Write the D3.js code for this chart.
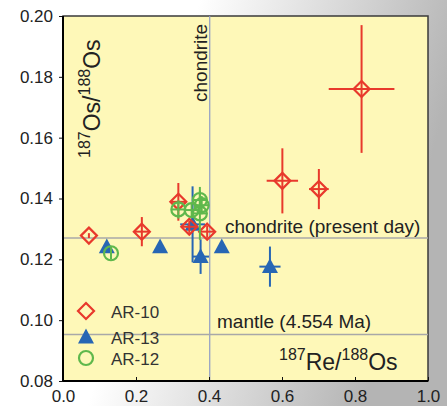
<!DOCTYPE html>
<html><head><meta charset="utf-8">
<script src="https://cdn.jsdelivr.net/npm/d3@7"></script>
<style>
body{margin:0;background:#fff;}
svg{display:block;font-family:"Liberation Sans",Arial,Helvetica,sans-serif;}
</style></head><body>
<svg id="chart" width="447" height="406"></svg>
<script>
// AR-10 (open red diamonds)
var ar10X    = [0.071, 0.216, 0.316, 0.346, 0.395, 0.601, 0.701, 0.818];
var ar10Y    = [0.1278, 0.1291, 0.1389, 0.1307, 0.1291, 0.1458, 0.1431, 0.1760];
var ar10XErr = [0, 0.02, 0.02, 0.02, 0.02, 0.043, 0.027, 0.090];
var ar10YErr = [0.0008, 0.0048, 0.0062, 0.002, 0.002, 0.0107, 0.0066, 0.021];

// AR-13 (filled blue triangles)
var ar13X    = [0.120, 0.266, 0.355, 0.377, 0.435, 0.567];
var ar13Y    = [0.1241, 0.1241, 0.1315, 0.1209, 0.1241, 0.1176];
var ar13XErr = [0, 0, 0.034, 0.023, 0, 0.029];
var ar13YErr = [0, 0, 0.0125, 0.0057, 0, 0.0066];

// AR-12 (open green circles)
var ar12X    = [0.1315, 0.316, 0.3525, 0.375, 0.380, 0.375];
var ar12Y    = [0.1220, 0.1364, 0.1362, 0.1395, 0.1378, 0.1351];
var ar12XErr = [0, 0.018, 0.018, 0.018, 0.018, 0.018];
var ar12YErr = [0.002, 0.003, 0.002, 0.003, 0.003, 0.0087];

var xTicks = [0, 0.2, 0.4, 0.6, 0.8, 1.0];
var yTicks = [0.08, 0.10, 0.12, 0.14, 0.16, 0.18, 0.20];

var chondriteRe = 0.402;      // 187Re/188Os chondrite
var chondriteOs = 0.127;      // present day
var mantleOs = 0.0953;        // 4.554 Ma

var red = "#e8392c", blue = "#2766b4", green = "#5fb84c";

var svg = d3.select("#chart");
var margin = {left: 63, top: 16, right: 19, bottom: 25};
var W = 447, H = 406;
var w = W - margin.left - margin.right, h = H - margin.top - margin.bottom;

// background
var defs = svg.append("defs");
var grad = defs.append("linearGradient").attr("id","bg")
    .attr("x1","0").attr("y1","0").attr("x2","1").attr("y2","0.25");
grad.append("stop").attr("offset","0%").attr("stop-color","#ffffff");
grad.append("stop").attr("offset","42%").attr("stop-color","#ffffff");
grad.append("stop").attr("offset","72%").attr("stop-color","#d9d9d9");
grad.append("stop").attr("offset","100%").attr("stop-color","#b4b4b4");
svg.append("rect").attr("width",W).attr("height",H).attr("fill","url(#bg)");

var x = d3.scaleLinear().domain([0,1]).range([0,w]);
var y = d3.scaleLinear().domain([0.08,0.20]).range([h,0]);

var g = svg.append("g").attr("transform","translate("+margin.left+","+margin.top+")");

g.append("rect").attr("width",w).attr("height",h)
  .attr("fill","#fef8b8").attr("stroke","#3a3a3a").attr("stroke-width",1.5);

// reference lines
g.append("line").attr("x1",x(chondriteRe)).attr("x2",x(chondriteRe))
  .attr("y1",0).attr("y2",h).attr("stroke","#8e9bc6").attr("stroke-width",1.2);
g.append("line").attr("x1",0).attr("x2",w)
  .attr("y1",y(chondriteOs)).attr("y2",y(chondriteOs)).attr("stroke","#a8a8a8").attr("stroke-width",1.5);
g.append("line").attr("x1",0).attr("x2",w)
  .attr("y1",y(mantleOs)).attr("y2",y(mantleOs)).attr("stroke","#a8a8a8").attr("stroke-width",1.5);

g.append("text").attr("transform","translate("+(x(chondriteRe)-3)+",86) rotate(-90)")
  .attr("font-size",19).attr("fill","#222").text("chondrite");
g.append("text").attr("x",162).attr("y",y(chondriteOs)-5)
  .attr("font-size",19).attr("fill","#222").text("chondrite (present day)");
g.append("text").attr("x",154).attr("y",y(mantleOs)-6)
  .attr("font-size",19).attr("fill","#222").text("mantle (4.554 Ma)");

// axes
var yAxis = d3.axisLeft(y).tickValues(yTicks).tickFormat(d3.format(".2f")).tickSize(4).tickPadding(6);
var xAxis = d3.axisBottom(x).tickValues(xTicks).tickFormat(d3.format(".1f")).tickSize(-4).tickPadding(9);
var ya = g.append("g").call(yAxis);
var xa = g.append("g").attr("transform","translate(0,"+h+")").call(xAxis);
[ya, xa].forEach(function(a){
  a.select(".domain").remove();
  a.selectAll("line").attr("stroke","#111").attr("stroke-width",1);
  a.selectAll("text").attr("font-size",17).attr("fill","#222").attr("font-family",null);
});
g.append("line").attr("x1",0).attr("x2",0).attr("y1",0).attr("y2",h).attr("stroke","#000").attr("stroke-width",2);
g.append("line").attr("x1",0).attr("x2",w).attr("y1",h).attr("y2",h).attr("stroke","#000").attr("stroke-width",2);

// axis titles
var yt = g.append("text").attr("transform","translate(37,142) rotate(-90)").attr("fill","#222");
yt.append("tspan").attr("font-size",16).attr("dy",-10).text("187");
yt.append("tspan").attr("font-size",23).attr("dy",10).text("Os/");
yt.append("tspan").attr("font-size",16).attr("dy",-10).text("188");
yt.append("tspan").attr("font-size",23).attr("dy",10).text("Os");

var xt = g.append("text").attr("x",216).attr("y",354).attr("fill","#222");
xt.append("tspan").attr("font-size",16).attr("dy",-10).text("187");
xt.append("tspan").attr("font-size",23).attr("dy",10).text("Re/");
xt.append("tspan").attr("font-size",16).attr("dy",-10).text("188");
xt.append("tspan").attr("font-size",23).attr("dy",10).text("Os");

// shapes
function diamond(s){ return "M0,"+(-s)+"L"+s+",0L0,"+s+"L"+(-s)+",0Z"; }
function triangle(s){ return "M0,"+(-s*1.05)+"L"+s+","+(s*0.8)+"L"+(-s)+","+(s*0.8)+"Z"; }

function toRows(xs, ys, xe, ye){
  return xs.map(function(v,i){ return {x:v, y:ys[i], xe:xe[i], ye:ye[i]}; });
}
var series = [
  {name:"AR-13", color:blue, rows:toRows(ar13X, ar13Y, ar13XErr, ar13YErr), shape:"tri"},
  {name:"AR-10", color:red, rows:toRows(ar10X, ar10Y, ar10XErr, ar10YErr), shape:"dia"},
  {name:"AR-12", color:green, rows:toRows(ar12X, ar12Y, ar12XErr, ar12YErr), shape:"circ"}
];

function drawMarker(sel, s){
  if(s.shape=="dia"){
    sel.append("path").attr("d",diamond(8)).attr("fill","none").attr("stroke",s.color).attr("stroke-width",2.2);
  } else if(s.shape=="tri"){
    sel.append("path").attr("d",triangle(8)).attr("fill",s.color).attr("stroke","none");
  } else {
    sel.append("circle").attr("r",7).attr("fill","none").attr("stroke",s.color).attr("stroke-width",2.2);
  }
}

series.forEach(function(s){
  var pg = g.append("g");
  var pts = pg.selectAll("g.pt").data(s.rows).enter().append("g").attr("class","pt");
  pts.filter(function(d){return d.xe>0;}).append("line")
    .attr("x1",function(d){return x(d.x-d.xe);}).attr("x2",function(d){return x(d.x+d.xe);})
    .attr("y1",function(d){return y(d.y);}).attr("y2",function(d){return y(d.y);})
    .attr("stroke",s.color).attr("stroke-width",2);
  pts.filter(function(d){return d.ye>0;}).append("line")
    .attr("x1",function(d){return x(d.x);}).attr("x2",function(d){return x(d.x);})
    .attr("y1",function(d){return y(d.y-d.ye);}).attr("y2",function(d){return y(d.y+d.ye);})
    .attr("stroke",s.color).attr("stroke-width",2);
  pts.each(function(d){
    var m = d3.select(this).append("g").attr("transform","translate("+x(d.x)+","+y(d.y)+")");
    drawMarker(m, s);
  });
});

// legend
var legendOrder = [series[1], series[0], series[2]];
var lg = g.append("g").attr("transform","translate(23,295)");
legendOrder.forEach(function(s,i){
  var yy = [0, 26, 47][i];
  var m = lg.append("g").attr("transform","translate(0,"+yy+")");
  drawMarker(m, s);
  lg.append("text").attr("x",25).attr("y",yy+7).attr("font-size",17).attr("fill","#333").text(s.name);
});
</script>
</body></html>
